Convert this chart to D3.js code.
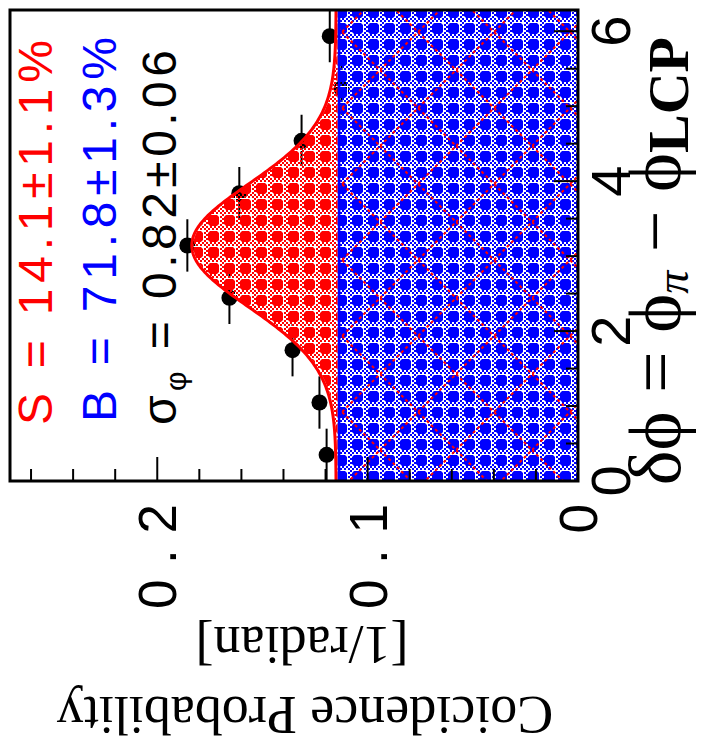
<!DOCTYPE html>
<html>
<head>
<meta charset="utf-8">
<script src="https://cdn.jsdelivr.net/npm/d3@7"></script>
<style>
  html, body { margin: 0; padding: 0; background: #fff; }
  svg { display: block; }
</style>
</head>
<body>
<script>
// Coincidence probability per δφ bin (9 equal bins over 0..2π)
const binCenters   = [0.349, 1.047, 1.745, 2.443, 3.142, 3.840, 4.538, 5.236, 5.934];
const binHalfWidth = [0.349, 0.349, 0.349, 0.349, 0.349, 0.349, 0.349, 0.349, 0.349];
const probValues   = [0.1195, 0.1229, 0.1357, 0.1657, 0.1857, 0.1610, 0.1314, 0.1124, 0.1180];

// Fit: flat background B plus Gaussian signal S centred at π
const fitS = 0.141;
const fitB = 0.718;
const fitSigma = 0.82;
const fitMean = Math.PI;

// Axes
const xDomain = [0, 2 * Math.PI];
const yDomain = [0, 0.27];
const xMajorTicks = [0, 2, 4, 6];
const xTickLabels = ["0", "2", "4", "6"];
const yMajorTicks = [0, 0.1, 0.2];
const yTickLabels = ["0", "0.1", "0.2"];

// Legend lines
const legendS = "S = 14.1\u00B11.1%";
const legendB = "B = 71.8\u00B11.3%";
const legendSigma = " = 0.82\u00B10.06";

// ---------------------------------------------------------------
// The plot is laid out in a landscape frame and turned a quarter
// turn counter-clockwise onto the page.
const pageW = 706, pageH = 754;
const plot = { left: 273, right: 744, top: 10, bottom: 578 };

const svg = d3.select("body").append("svg")
  .attr("width", pageW).attr("height", pageH);
const defs = svg.append("defs");

function makeHatch(id, color) {
  const p = defs.append("pattern").attr("id", id)
    .attr("patternUnits", "userSpaceOnUse").attr("width", 16).attr("height", 16);
  p.append("rect").attr("x", 11).attr("y", 0).attr("width", 1).attr("height", 16).attr("fill", "#fff");
  p.append("rect").attr("x", 0).attr("y", 11).attr("width", 16).attr("height", 1).attr("fill", "#fff");
  p.append("polygon").attr("points", "2,0 9,0 11,2 11,9 9,11 2,11 0,9 0,2").attr("fill", color);
  const cells = [[12,0],[14,2],[12,4],[14,6],[12,8],[14,10],
                 [0,12],[2,14],[4,12],[6,14],[8,12],[10,14],[12,12],[14,14]];
  cells.forEach(([cx, cy]) => p.append("rect").attr("x", cx).attr("y", cy)
    .attr("width", 2).attr("height", 2).attr("fill", color));
}
makeHatch("hatchBlue", "#0000ff");
makeHatch("hatchRed", "#ff0000");

const diag = defs.append("pattern").attr("id", "diagRed")
  .attr("patternUnits", "userSpaceOnUse").attr("width", 76).attr("height", 76);
diag.append("path").attr("d", "M0,0L76,76M76,0L0,76")
  .attr("stroke", "#ff0000").attr("stroke-width", 2).attr("stroke-dasharray", "3,3").attr("fill", "none");

defs.append("clipPath").attr("id", "plotClip")
  .append("rect").attr("x", plot.left).attr("y", plot.top)
  .attr("width", plot.right - plot.left).attr("height", plot.bottom - plot.top);

const g = svg.append("g").attr("transform", `translate(0,${pageH}) rotate(-90)`);

const x = d3.scaleLinear().domain(xDomain).range([plot.left, plot.right]);
const y = d3.scaleLinear().domain(yDomain).range([plot.bottom, plot.top]);

const bgLevel = fitB / (2 * Math.PI);
const gaussNorm = 1 / (Math.sqrt(2 * Math.PI) * fitSigma);
const fitTotal = t => bgLevel + fitS * gaussNorm * Math.exp(-((t - fitMean) ** 2) / (2 * fitSigma ** 2));
const curveT = d3.range(0, 301).map(i => xDomain[1] * i / 300);

const inner = g.append("g").attr("clip-path", "url(#plotClip)");

// data points (drawn first, the fit bands sit over them)
const pts = binCenters.map((c, i) => ({ c, hw: binHalfWidth[i], v: probValues[i] }));
inner.selectAll("line.xerr").data(pts).join("line").attr("class", "xerr")
  .attr("x1", d => x(d.c - d.hw)).attr("x2", d => x(d.c + d.hw))
  .attr("y1", d => y(d.v)).attr("y2", d => y(d.v))
  .attr("stroke", "#000").attr("stroke-width", 2);
inner.selectAll("circle.pt").data(pts).join("circle").attr("class", "pt")
  .attr("cx", d => x(d.c)).attr("cy", d => y(d.v)).attr("r", 8).attr("fill", "#000");

// background band
const bandX = x(xDomain[0]), bandW = x(xDomain[1]) - x(xDomain[0]);
inner.append("rect")
  .attr("x", bandX).attr("width", bandW)
  .attr("y", y(bgLevel)).attr("height", y(0) - y(bgLevel))
  .attr("fill", "url(#hatchBlue)");
inner.append("rect")
  .attr("x", bandX).attr("width", bandW)
  .attr("y", y(bgLevel)).attr("height", y(0) - y(bgLevel))
  .attr("fill", "url(#diagRed)");

// signal band on top of the background
const sigArea = d3.area().x(t => x(t)).y0(y(bgLevel)).y1(t => y(fitTotal(t)));
inner.append("path").datum(curveT).attr("d", sigArea).attr("fill", "url(#hatchRed)");

// outlines
const sigLine = d3.line().x(t => x(t)).y(t => y(fitTotal(t)) - 1.5);
inner.append("path").datum(curveT).attr("d", sigLine)
  .attr("fill", "none").attr("stroke", "#ff0000").attr("stroke-width", 3);
inner.append("line")
  .attr("x1", bandX).attr("x2", bandX + bandW)
  .attr("y1", y(bgLevel) + 1.5).attr("y2", y(bgLevel) + 1.5)
  .attr("stroke", "#0000ff").attr("stroke-width", 2.5);

// ticks
const ticks = g.append("g").attr("stroke", "#000").attr("stroke-width", 2);
const xMinor = d3.range(0, 13).map(i => i * 0.5).filter(v => v <= xDomain[1]);
ticks.selectAll("line.xt").data(xMinor).join("line").attr("class", "xt")
  .attr("x1", d => x(d)).attr("x2", d => x(d))
  .attr("y1", plot.bottom).attr("y2", d => plot.bottom - (xMajorTicks.includes(d) ? 24 : 12));
const yMinor = d3.range(0, 14).map(i => +(i * 0.02).toFixed(2)).filter(v => v <= yDomain[1]);
ticks.selectAll("line.yt").data(yMinor).join("line").attr("class", "yt")
  .attr("y1", d => y(d)).attr("y2", d => y(d))
  .attr("x1", plot.left).attr("x2", d => plot.left + (yMajorTicks.includes(d) ? 24 : 12));

// frame
g.append("rect").attr("x", plot.left).attr("y", plot.top)
  .attr("width", plot.right - plot.left).attr("height", plot.bottom - plot.top)
  .attr("fill", "none").attr("stroke", "#000").attr("stroke-width", 3);

const sans = "'Liberation Sans', Arial, Helvetica, sans-serif";
const serif = "'Liberation Serif', 'Times New Roman', 'DejaVu Serif', serif";

// tick labels
g.selectAll("text.xl").data(xMajorTicks).join("text").attr("class", "xl")
  .attr("x", d => x(d)).attr("y", 630).attr("text-anchor", "middle")
  .style("font-family", sans).style("font-size", "56px")
  .text((d, i) => xTickLabels[i]);
g.selectAll("text.yl").data(yMajorTicks).join("text").attr("class", "yl")
  .attr("x", 250).attr("y", d => y(d)).attr("dy", "0.36em").attr("text-anchor", "end")
  .style("font-family", sans).style("font-size", "53px")
  .each(function (d, i) {
    const t = d3.select(this).text(yTickLabels[i]);
    if (yTickLabels[i].length > 1) t.attr("textLength", 105).attr("lengthAdjust", "spacing");
  });

// axis titles
const xt = g.append("text").attr("x", 717).attr("y", 680).attr("text-anchor", "end")
  .style("font-family", serif).style("font-size", "74px");
xt.append("tspan").text("\u03B4\u03D5 = \u03D5");
xt.append("tspan").attr("dy", 8).style("font-size", "46px").style("font-style", "italic").text("\u03C0");
xt.append("tspan").attr("dy", -8).text(" \u2212 \u03D5");
xt.append("tspan").attr("dy", 8).style("font-size", "58px").style("font-weight", "bold").text("LCP");

g.append("text").attr("transform", "translate(57,305) rotate(-90)").attr("text-anchor", "middle")
  .style("font-family", serif).style("font-size", "54px").text("Coicidence Probability");
g.append("text").attr("transform", "translate(127,302) rotate(-90)").attr("text-anchor", "middle")
  .style("font-family", serif).style("font-size", "54px").text("[1/radian]");

// fit results
g.append("text").attr("x", 329).attr("y", 52).attr("textLength", 385).attr("lengthAdjust", "spacing")
  .style("font-family", sans).style("font-size", "48px").attr("fill", "#ff0000").text(legendS);
g.append("text").attr("x", 332).attr("y", 116).attr("textLength", 385).attr("lengthAdjust", "spacing")
  .style("font-family", sans).style("font-size", "48px").attr("fill", "#0000ff").text(legendB);
const ls = g.append("text").attr("x", 329).attr("y", 176).attr("textLength", 375).attr("lengthAdjust", "spacing")
  .style("font-family", sans).style("font-size", "48px").attr("fill", "#000");
ls.append("tspan").text("\u03C3");
ls.append("tspan").attr("dy", 10).style("font-size", "30px").text("\u03C6");
ls.append("tspan").attr("dy", -10).text(legendSigma);
</script>
</body>
</html>
